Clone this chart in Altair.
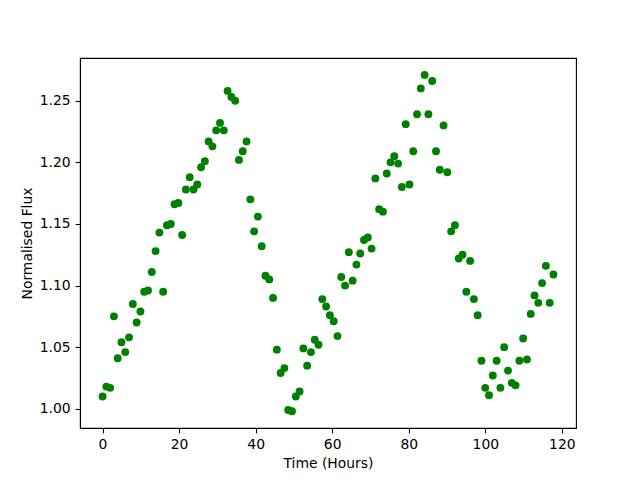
import altair as alt
import pandas as pd

time_hours = [0.00, 0.99, 1.98, 2.97, 3.96, 4.95, 5.94, 6.93, 7.92, 8.91,
              9.90, 10.89, 11.88, 12.87, 13.86, 14.85, 15.84, 16.83, 17.82, 18.81,
              19.80, 20.79, 21.78, 22.77, 23.76, 24.75, 25.74, 26.73, 27.72, 28.71,
              29.70, 30.69, 31.68, 32.67, 33.66, 34.65, 35.64, 36.63, 37.62, 38.61,
              39.60, 40.59, 41.58, 42.57, 43.56, 44.55, 45.54, 46.53, 47.52, 48.51,
              49.50, 50.49, 51.48, 52.47, 53.46, 54.45, 55.44, 56.43, 57.42, 58.41,
              59.40, 60.39, 61.38, 62.37, 63.36, 64.35, 65.34, 66.33, 67.32, 68.31,
              69.30, 70.29, 71.28, 72.27, 73.26, 74.25, 75.24, 76.23, 77.22, 78.21,
              79.20, 80.19, 81.18, 82.17, 83.16, 84.15, 85.14, 86.13, 87.12, 88.11,
              89.10, 90.09, 91.08, 92.07, 93.06, 94.05, 95.04, 96.03, 97.02, 98.01,
              99.00, 99.99, 100.98, 101.97, 102.96, 103.95, 104.94, 105.93, 106.92, 107.91,
              108.90, 109.89, 110.88, 111.87, 112.86, 113.85, 114.84, 115.83, 116.82, 117.81]

flux = [1.010, 1.018, 1.017, 1.075, 1.041, 1.054, 1.046, 1.058, 1.085, 1.070,
        1.079, 1.095, 1.096, 1.111, 1.128, 1.143, 1.095, 1.149, 1.150, 1.166,
        1.167, 1.141, 1.178, 1.188, 1.178, 1.182, 1.196, 1.201, 1.217, 1.213,
        1.226, 1.232, 1.226, 1.258, 1.253, 1.250, 1.202, 1.209, 1.217, 1.170,
        1.144, 1.156, 1.132, 1.108, 1.105, 1.090, 1.048, 1.029, 1.033, 0.999,
        0.998, 1.010, 1.014, 1.049, 1.035, 1.046, 1.056, 1.052, 1.089, 1.083,
        1.076, 1.071, 1.059, 1.107, 1.100, 1.127, 1.104, 1.117, 1.126, 1.137,
        1.139, 1.130, 1.187, 1.162, 1.160, 1.191, 1.200, 1.205, 1.199, 1.180,
        1.231, 1.182, 1.209, 1.239, 1.260, 1.271, 1.239, 1.266, 1.209, 1.194,
        1.230, 1.192, 1.144, 1.149, 1.122, 1.125, 1.095, 1.120, 1.089, 1.076,
        1.039, 1.017, 1.011, 1.027, 1.039, 1.017, 1.050, 1.031, 1.021, 1.019,
        1.039, 1.057, 1.040, 1.077, 1.092, 1.086, 1.102, 1.116, 1.086, 1.109]

x_ticks = [0, 20, 40, 60, 80, 100, 120]
y_ticks = [1.00, 1.05, 1.10, 1.15, 1.20, 1.25]

df = pd.DataFrame({"time": time_hours, "flux": flux})

axis_common = dict(
    domainColor="black", domainWidth=1.1,
    tickColor="black", tickWidth=1.1, tickSize=4.9,
    labelColor="black", labelFont="DejaVu Sans", labelFontSize=13.9,
    labelPadding=4.9, grid=False,
    titleColor="black", titleFont="DejaVu Sans", titleFontSize=13.9,
    titleFontWeight="normal",
)

chart = alt.Chart(df).mark_circle(size=62, color="#008000", opacity=1).encode(
    x=alt.X("time:Q",
            scale=alt.Scale(domain=[-5.89, 123.70], nice=False, zero=False),
            axis=alt.Axis(title="Time (Hours)", values=x_ticks, format="d",
                          titlePadding=5, **axis_common)),
    y=alt.Y("flux:Q",
            scale=alt.Scale(domain=[0.9844, 1.2847], nice=False, zero=False),
            axis=alt.Axis(title="Normalised Flux", values=y_ticks, format=".2f",
                          titlePadding=5, **axis_common)),
).properties(
    width=496, height=370,
    autosize=alt.AutoSizeParams(type="none"),
    padding={"left": 72, "top": 50, "right": 56, "bottom": 45},
).configure_view(
    stroke="black", strokeWidth=1.1
)

chart.save("out.html", embed_options={"renderer": "svg", "actions": False})
